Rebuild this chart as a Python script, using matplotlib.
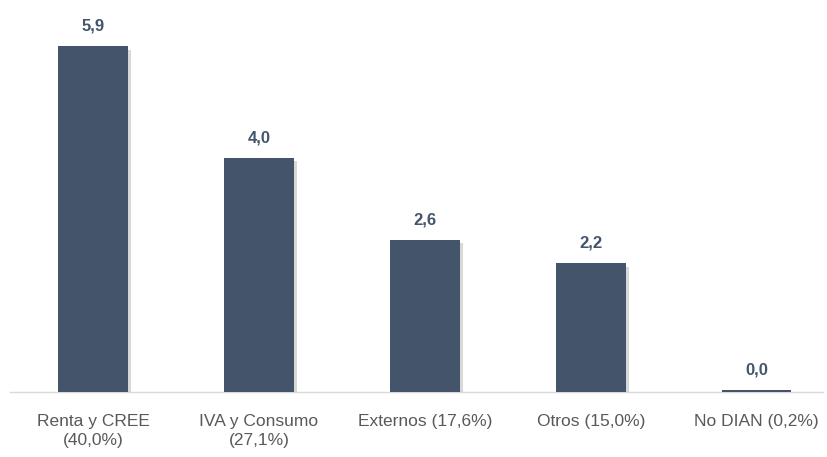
import matplotlib
matplotlib.use('Agg')
import matplotlib.pyplot as plt
import matplotlib.patheffects as pe

categorias = ['Renta y CREE\n(40,0%)', 'IVA y Consumo\n(27,1%)', 'Externos (17,6%)',
              'Otros (15,0%)', 'No DIAN (0,2%)']
valores = [5.9, 4.0, 2.6, 2.2, 0.03]

color_barra = '#44546A'
plt.rcParams['font.family'] = ['Liberation Sans Narrow', 'Liberation Sans', 'DejaVu Sans']

fig = plt.figure(figsize=(8.27, 4.57), dpi=100)
ax = fig.add_axes([10 / 827, 65 / 457, 813 / 827, 382 / 457])

x = range(len(valores))
barras = ax.bar(x, valores, width=0.42, color=color_barra, zorder=3)
for b in barras:
    b.set_path_effects([pe.SimplePatchShadow(offset=(2.5, -2.5), shadow_rgbFace='#7f7f7f', alpha=0.3),
                        pe.Normal()])

for xi, v in zip(x, valores):
    ax.annotate(('%.1f' % v).replace('.', ','), (xi, v), xytext=(0, 9), textcoords='offset points',
                ha='center', va='bottom', fontsize=12, fontweight='bold', color=color_barra)

ax.set_xlim(-0.5, 4.4)
ax.set_ylim(0, 6.52)
ax.set_xticks(list(x))
ax.set_xticklabels(categorias, fontsize=12.5, color='#595959', linespacing=1.3)
ax.tick_params(axis='x', length=0, pad=16)
ax.set_yticks([])
for s in ['top', 'right', 'left']:
    ax.spines[s].set_visible(False)
ax.spines['bottom'].set_color('#D9D9D9')
ax.spines['bottom'].set_linewidth(1)

fig.savefig('out.png', dpi=100)
